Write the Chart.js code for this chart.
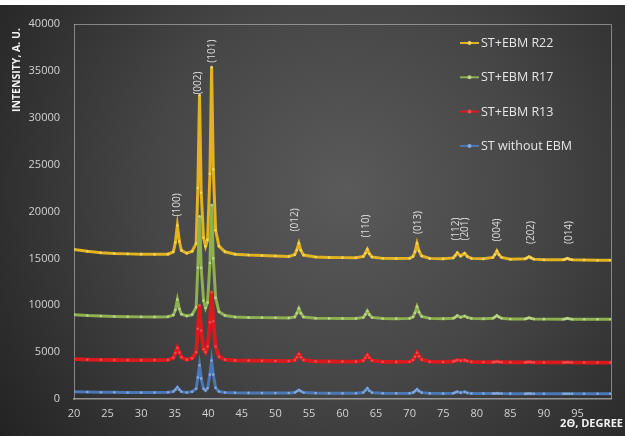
<!DOCTYPE html>
<html><head><meta charset="utf-8">
<script src="https://cdn.jsdelivr.net/npm/chart.js@4.4.0/dist/chart.umd.min.js"></script>
<style>html,body{margin:0;padding:0;background:#fff;} #wrap{width:625px;height:436px;position:relative;}</style>
</head><body><div id="wrap"><canvas id="c" width="625" height="436"></canvas></div>
<script>
// 2-theta positions (degrees)
const twoTheta = [
  20, 22, 24, 26, 28, 30, 32, 34,
  34.8, 35.1, 35.4, 35.7, 36.0, 36.8, 37.6, 38.2,
  38.45, 38.7, 38.95, 39.3, 39.6, 39.9, 40.25, 40.5, 40.75, 41.1, 41.6, 42.5,
  44, 46, 48, 50, 52,
  52.9, 53.2, 53.5, 53.8, 54.2,
  56, 58, 60, 62,
  63.1, 63.4, 63.7, 64.0, 64.4,
  66, 68, 70,
  70.5, 70.8, 71.1, 71.4, 71.8,
  73, 75, 76.5,
  76.8, 77.1, 77.6, 78.2, 78.6, 79.2, 81,
  82.4, 82.7, 83.0, 83.3, 83.7, 85,
  87.2, 87.5, 87.8, 88.1, 88.5, 90,
  92.9, 93.2, 93.5, 93.8, 94.2, 96, 98, 99.9
];
const intensityR22 = [
  15950, 15750, 15600, 15520, 15480, 15450, 15430, 15450,
  15700, 16700, 18500, 16800, 15850, 15550, 15750, 16600,
  22500, 32400, 22000, 17200, 16300, 17000, 24000, 35400, 24500, 18000, 16300, 15700,
  15450, 15350, 15300, 15250, 15200,
  15400, 15900, 16600, 15850, 15350,
  15150, 15100, 15080, 15060,
  15200, 15550, 15970, 15500, 15150,
  15000, 14980, 15000,
  15200, 15700, 16600, 15800, 15250,
  15000, 14950, 15050,
  15300, 15600, 15250, 15550, 15200, 15000, 14950,
  15100, 15400, 15790, 15400, 15100, 14900,
  14950, 15050, 15180, 15050, 14920, 14850,
  14850, 14920, 15000, 14920, 14850, 14820, 14800, 14800
];
const intensityR17 = [
  9000, 8900, 8850, 8800, 8780, 8760, 8760, 8780,
  8950, 9500, 10600, 9600, 9050, 8850, 9000, 9800,
  14000, 19500, 14000, 10500, 9700, 10300, 14500, 20700, 15000, 10800, 9300, 8900,
  8750, 8700, 8680, 8660, 8650,
  8750, 9150, 9670, 9150, 8750,
  8620, 8600, 8600, 8600,
  8700, 9000, 9390, 9000, 8700,
  8580, 8570, 8600,
  8750, 9200, 9850, 9250, 8800,
  8600, 8570, 8620,
  8720, 8890, 8720, 8850, 8700, 8600, 8560,
  8620, 8750, 8890, 8750, 8620, 8540,
  8540, 8600, 8670, 8600, 8540, 8520,
  8510, 8550, 8600, 8550, 8510, 8500, 8500, 8500
];
const intensityR13 = [
  4250, 4200, 4180, 4160, 4150, 4150, 4150, 4170,
  4400, 4900, 5450, 4950, 4450, 4200, 4350, 5000,
  7500, 10000, 7300, 5300, 5000, 5600, 8200, 11400, 8300, 5600, 4500, 4200,
  4120, 4100, 4080, 4060, 4050,
  4150, 4450, 4800, 4450, 4150,
  4020, 4000, 3990, 3990,
  4100, 4400, 4690, 4400, 4100,
  3970, 3960, 3980,
  4150, 4500, 4940, 4550, 4200,
  3980, 3950, 4000,
  4080, 4160, 4100, 4150, 4050, 3970, 3940,
  3930, 3960, 4000, 3960, 3930, 3920,
  3910, 3930, 3950, 3930, 3910, 3900,
  3900, 3910, 3920, 3910, 3900, 3890, 3890, 3890
];
const intensityST = [
  780, 750, 720, 710, 700, 700, 700, 710,
  800, 1000, 1250, 1000, 780, 700, 780, 1100,
  2300, 3600, 2200, 1100, 900, 1150, 2600, 4100, 2600, 1200, 800, 700,
  660, 650, 640, 640, 640,
  700, 830, 960, 830, 690,
  630, 620, 620, 620,
  700, 900, 1140, 880, 680,
  610, 600, 610,
  680, 840, 1030, 840, 680,
  600, 590, 620,
  700, 780, 680, 760, 650, 590, 580,
  575, 590, 610, 590, 575, 570,
  565, 570, 580, 570, 565, 560,
  560, 560, 565, 560, 560, 555, 555, 555
];
const seriesNames = ['ST+EBM R22', 'ST+EBM R17', 'ST+EBM R13', 'ST without EBM'];
const peakLabels = ['(100)', '(002)', '(101)', '(012)', '(110)', '(013)', '(112)', '(201)', '(004)', '(202)', '(014)'];
const peakLabelX = [35.35, 38.5, 40.55, 53.0, 63.5, 71.2, 76.9, 78.2, 83.0, 88.1, 93.7];
const peakLabelY = [20700, 33700, 37100, 19100, 18450, 18830, 18130, 18130, 18030, 17760, 17760];
const xTickValues = [20, 25, 30, 35, 40, 45, 50, 55, 60, 65, 70, 75, 80, 85, 90, 95];

const colors = {
  'ST+EBM R22': {line: '#e2b21f', point: '#f3d466', w: 3},
  'ST+EBM R17': {line: '#8fb050', point: '#bcd58c', w: 3},
  'ST+EBM R13': {line: '#dc1a1e', point: '#f04a4a', w: 3.8},
  'ST without EBM': {line: '#4a78b6', point: '#86a8da', w: 3}
};
const seriesValues = {
  'ST+EBM R22': intensityR22, 'ST+EBM R17': intensityR17,
  'ST+EBM R13': intensityR13, 'ST without EBM': intensityST
};

// Chart.js draws dataset 0 on top, so list bottom-most last
const drawOrder = ['ST without EBM', 'ST+EBM R13', 'ST+EBM R17', 'ST+EBM R22'];
const datasets = drawOrder.map(name => ({
  label: name,
  data: twoTheta.map((x, i) => ({x: x, y: seriesValues[name][i]})),
  borderColor: colors[name].line,
  backgroundColor: colors[name].point,
  pointBackgroundColor: colors[name].point,
  pointBorderWidth: 0,
  pointRadius: 1.3,
  borderWidth: colors[name].w,
  showLine: true,
  tension: 0
}));

const FONT = '"Open Sans", "DejaVu Sans", sans-serif';

const bgPlugin = {
  id: 'bg',
  beforeDraw(chart) {
    const ctx = chart.ctx;
    ctx.save();
    ctx.fillStyle = '#ffffff';
    ctx.fillRect(0, 0, chart.width, chart.height);
    const g = ctx.createRadialGradient(345, 190, 0, 345, 190, 430);
    g.addColorStop(0, '#5a5a5a');
    g.addColorStop(0.45, '#464646');
    g.addColorStop(1, '#222222');
    ctx.fillStyle = g;
    ctx.fillRect(0, 5, chart.width, chart.height - 5);
    ctx.restore();
  },
  beforeDatasetsDraw(chart) {
    const ctx = chart.ctx, a = chart.chartArea;
    ctx.save();
    ctx.strokeStyle = 'rgba(200,200,200,0.55)';
    ctx.lineWidth = 1;
    ctx.beginPath();
    ctx.moveTo(a.left, a.top + 0.5);
    ctx.lineTo(a.right + 0.5, a.top + 0.5);
    ctx.lineTo(a.right + 0.5, a.bottom);
    ctx.stroke();
    ctx.restore();
  },
  afterDraw(chart) {
    const ctx = chart.ctx;
    const xs = chart.scales.x, ys = chart.scales.y;
    ctx.save();
    // peak labels
    ctx.fillStyle = '#dedede';
    ctx.font = '10px ' + FONT;
    ctx.textAlign = 'center';
    ctx.textBaseline = 'middle';
    peakLabels.forEach((t, i) => {
      const px = xs.getPixelForValue(peakLabelX[i]);
      const py = ys.getPixelForValue(peakLabelY[i]);
      ctx.save();
      ctx.translate(px, py);
      ctx.rotate(-Math.PI / 2);
      ctx.fillText(t, 0, 0);
      ctx.restore();
    });
    // axis titles
    ctx.fillStyle = '#f2f2f2';
    ctx.font = 'bold 10.5px ' + FONT;
    ctx.save();
    ctx.translate(17, 70);
    ctx.rotate(-Math.PI / 2);
    ctx.textAlign = 'center';
    ctx.fillText('INTENSITY, A. U.', 0, 0);
    ctx.restore();
    ctx.font = 'bold 11px ' + FONT;
    ctx.textAlign = 'right';
    ctx.fillText('2\u0398, DEGREE', 623, 424);
    // legend
    ctx.font = '12.5px ' + FONT;
    ctx.textAlign = 'left';
    seriesNames.forEach((name, i) => {
      const y = 43 + i * 34.3;
      ctx.strokeStyle = colors[name].line;
      ctx.lineWidth = 2;
      ctx.beginPath();
      ctx.moveTo(460, y);
      ctx.lineTo(479, y);
      ctx.stroke();
      ctx.fillStyle = colors[name].point;
      ctx.beginPath();
      ctx.arc(469.5, y, 2, 0, Math.PI * 2);
      ctx.fill();
      ctx.fillStyle = '#e6e6e6';
      ctx.fillText(name, 481, y + 0.5);
    });
    ctx.restore();
  }
};

new Chart(document.getElementById('c'), {
  type: 'scatter',
  data: {datasets: datasets},
  options: {
    responsive: false,
    animation: false,
    layout: {padding: {left: 0, right: 14, top: 24, bottom: 0}},
    plugins: {legend: {display: false}, tooltip: {enabled: false}},
    scales: {
      x: {
        type: 'linear', min: 20, max: 100,
        afterFit(s) { s.height = 37; },
        afterBuildTicks(s) { s.ticks = xTickValues.map(v => ({value: v})); },
        grid: {display: false, drawTicks: false},
        border: {display: true, color: 'rgba(190,190,190,0.7)', width: 1.5},
        ticks: {color: '#d2d2d2', font: {family: FONT, size: 11}, padding: 8, maxRotation: 0, autoSkip: false,
                callback: v => String(v)}
      },
      y: {
        type: 'linear', min: 0, max: 40000,
        afterFit(s) { s.width = 74; },
        grid: {display: false, drawTicks: false},
        border: {display: true, color: 'rgba(190,190,190,0.6)', width: 1},
        ticks: {stepSize: 5000, color: '#d2d2d2', font: {family: FONT, size: 11}, padding: 14,
                callback: v => String(v)}
      }
    }
  },
  plugins: [bgPlugin]
});
</script>
</body></html>
